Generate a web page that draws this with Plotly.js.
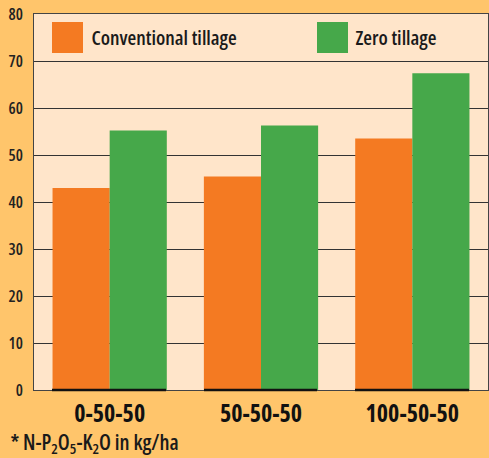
<!DOCTYPE html>
<html><head><meta charset="utf-8">
<script src="https://cdn.plot.ly/plotly-3.0.1.min.js"></script>
<style>
html,body{margin:0;padding:0;background:#FFC56B;}
#chart svg text{font-stretch:condensed !important;}
</style>
</head><body>
<div id="chart" style="width:489px;height:458px;"></div>
<script>
const categories = ["0-50-50", "50-50-50", "100-50-50"];
const conventional = [43, 45.4, 53.5];
const zeroTillage = [55.2, 56.3, 67.4];
const seriesNames = ["Conventional tillage", "Zero tillage"];
const yTicks = [0, 10, 20, 30, 40, 50, 60, 70, 80];

const orange = "#F47A22";
const green = "#46A84A";
const font = "Open Sans, Roboto Condensed, sans-serif";

const traces = [
  {type: "bar", name: seriesNames[0], x: categories, y: conventional, marker: {color: orange}, showlegend: false, hoverinfo: "none"},
  {type: "bar", name: seriesNames[1], x: categories, y: zeroTillage, marker: {color: green}, showlegend: false, hoverinfo: "none"}
];

const W = 454, H = 376, L = 34, T = 14;
const px = v => (v - L) / W;
const py = v => (T + H - v) / H;

const layout = {
  width: 489, height: 458,
  margin: {l: L, r: 1, t: T, b: 68},
  paper_bgcolor: "#FFC56B",
  plot_bgcolor: "#FFE5CA",
  barmode: "group",
  bargap: 0.245,
  bargroupgap: 0,
  font: {family: font, color: "#1a1a1a"},
  xaxis: {
    range: [-0.5, 2.5],
    showgrid: false,
    showline: true, mirror: true, linecolor: "#444", linewidth: 1,
    ticks: "",
    ticklabelstandoff: 2,
    tickfont: {family: font, size: 24, color: "#111", weight: "bold"},
    fixedrange: true
  },
  yaxis: {
    range: [0, 80],
    tickvals: yTicks,
    showgrid: true, gridcolor: "#333", gridwidth: 1,
    zeroline: false,
    showline: true, mirror: true, linecolor: "#444", linewidth: 1,
    ticks: "",
    ticklabelstandoff: 7,
    tickfont: {family: font, size: 16, color: "#222", weight: 600},
    fixedrange: true
  },
  shapes: [
    {type: "rect", xref: "paper", yref: "paper", x0: px(52), x1: px(83), y0: py(53), y1: py(22), fillcolor: orange, line: {width: 0}},
    {type: "rect", xref: "paper", yref: "paper", x0: px(317), x1: px(348), y0: py(53), y1: py(22), fillcolor: green, line: {width: 0}},
    {type: "line", xref: "paper", yref: "paper", x0: px(52), x1: px(166), y0: py(390), y1: py(390), line: {color: "#111", width: 2.5}},
    {type: "line", xref: "paper", yref: "paper", x0: px(204), x1: px(317), y0: py(390), y1: py(390), line: {color: "#111", width: 2.5}},
    {type: "line", xref: "paper", yref: "paper", x0: px(355), x1: px(469), y0: py(390), y1: py(390), line: {color: "#111", width: 2.5}}
  ],
  annotations: [
    {xref: "paper", yref: "paper", x: px(164), y: py(38), xanchor: "center", yanchor: "middle", text: seriesNames[0], showarrow: false, font: {family: font, size: 20, color: "#1a1a1a", weight: 600}},
    {xref: "paper", yref: "paper", x: px(395.5), y: py(38), xanchor: "center", yanchor: "middle", text: seriesNames[1], showarrow: false, font: {family: font, size: 20, color: "#1a1a1a", weight: 600}},
    {xref: "paper", yref: "paper", x: px(94), y: py(443), xanchor: "center", yanchor: "middle", text: "* N-P<sub>2</sub>O<sub>5</sub>-K<sub>2</sub>O in kg/ha", showarrow: false, font: {family: font, size: 21, color: "#1a1a1a", weight: 600}}
  ]
};

Plotly.newPlot("chart", traces, layout, {displayModeBar: false, staticPlot: true});
</script>
</body></html>
